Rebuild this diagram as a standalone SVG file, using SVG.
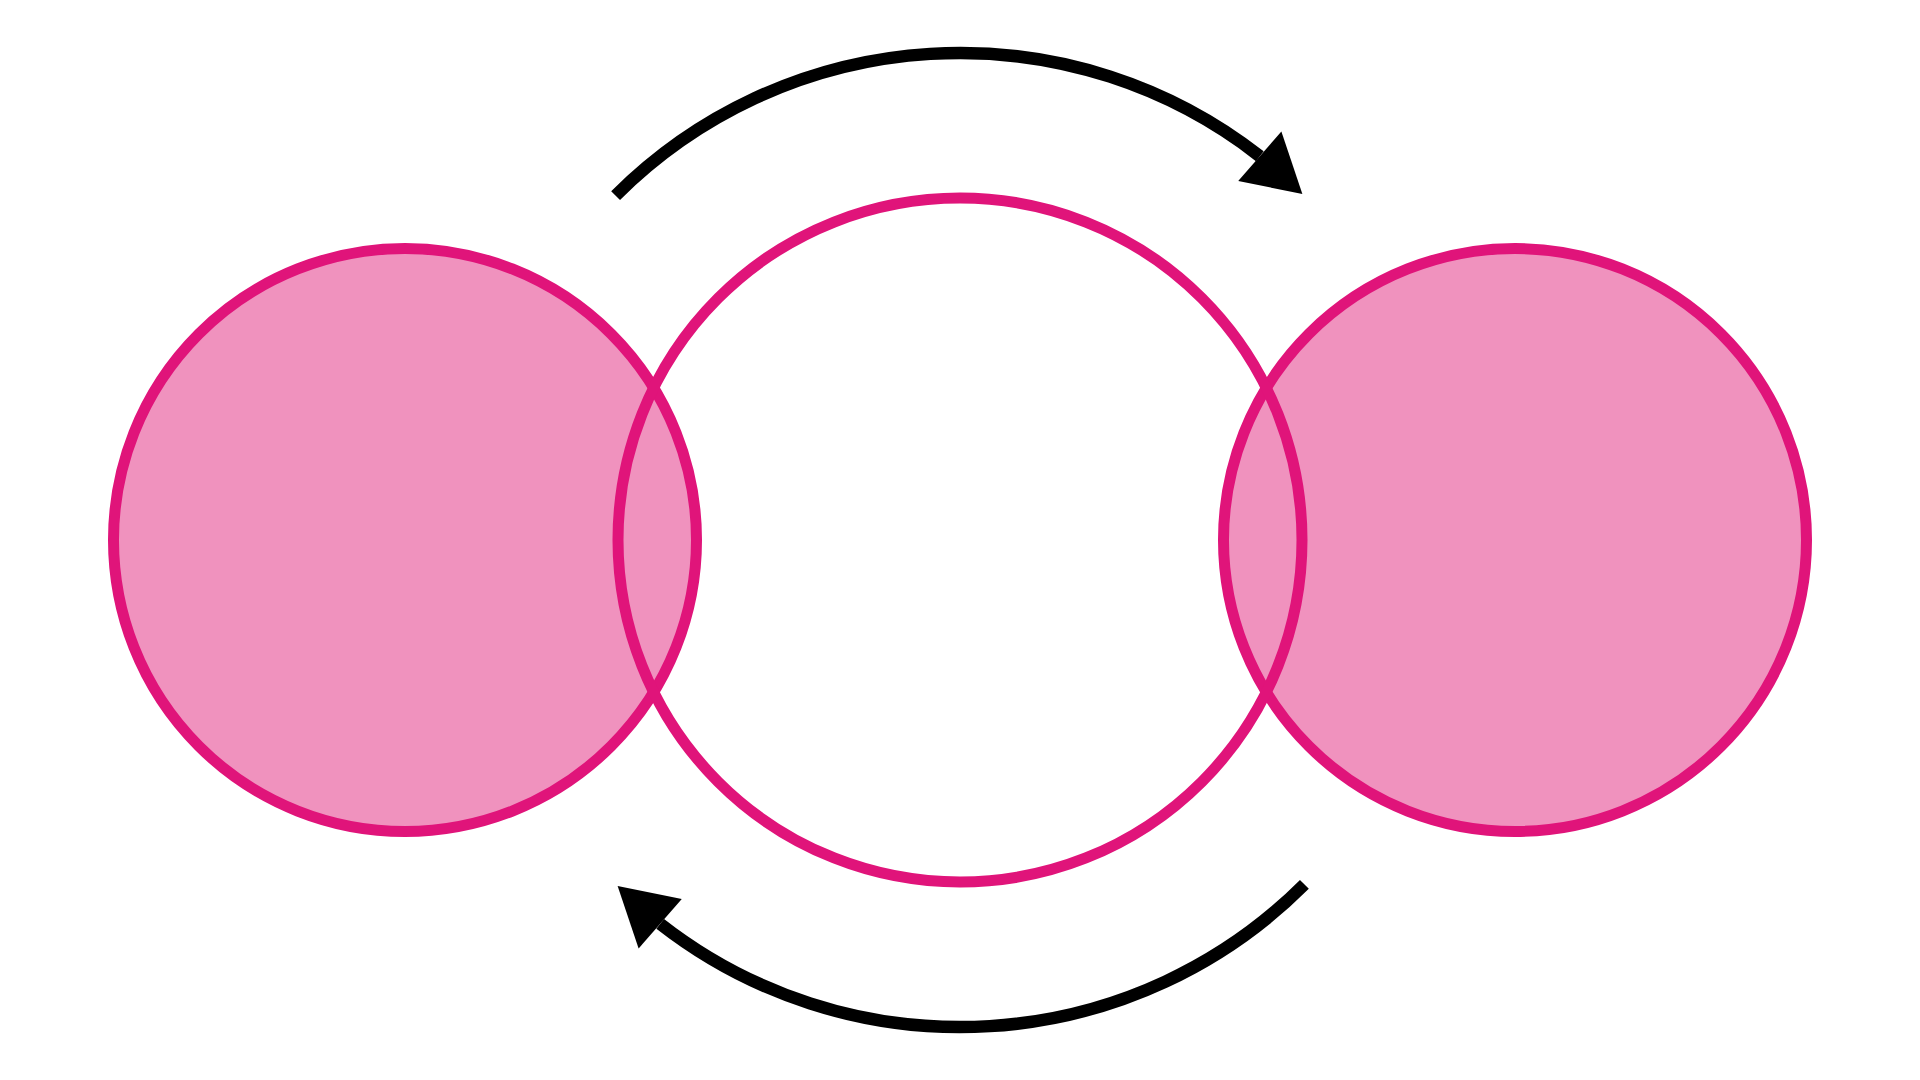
<svg xmlns="http://www.w3.org/2000/svg" width="1920" height="1080" viewBox="0 0 1920 1080">
  <defs>
    <style>
      .filled { fill: #F092BE; stroke: none; }
      .ring { fill: none; stroke: #E0147A; stroke-width: 11; }
      .arc { fill: none; stroke: #000000; stroke-width: 12.5; stroke-linecap: butt; marker-end: url(#arrow); }
    </style>
    <marker id="arrow" markerUnits="userSpaceOnUse" markerWidth="70" markerHeight="70" refX="0" refY="0" viewBox="-2 -32 64 64" orient="auto" overflow="visible">
      <path d="M1.6,-30 L51.9,3.2 L-1.6,30 Z" fill="#000000"/>
    </marker>
  </defs>
  <rect width="1920" height="1080" fill="#FFFFFF"/>
  <g id="node-left">
    <circle class="filled" cx="405" cy="540" r="291.5"/>
  </g>
  <g id="node-right">
    <circle class="filled" cx="1515" cy="540" r="291.5"/>
  </g>
  <g id="outlines">
    <circle class="ring" cx="405" cy="540" r="291.5"/>
    <circle class="ring" cx="1515" cy="540" r="291.5"/>
  </g>
  <g id="node-middle">
    <circle class="ring" cx="960" cy="540" r="342"/>
  </g>
  <g id="connectors">
    <path class="arc" d="M 615.6 195.6 A 487 487 0 0 1 1259.8 156.2"/>
    <path class="arc" d="M 1304.4 884.4 A 487 487 0 0 1 660.2 923.8"/>
  </g>
</svg>
